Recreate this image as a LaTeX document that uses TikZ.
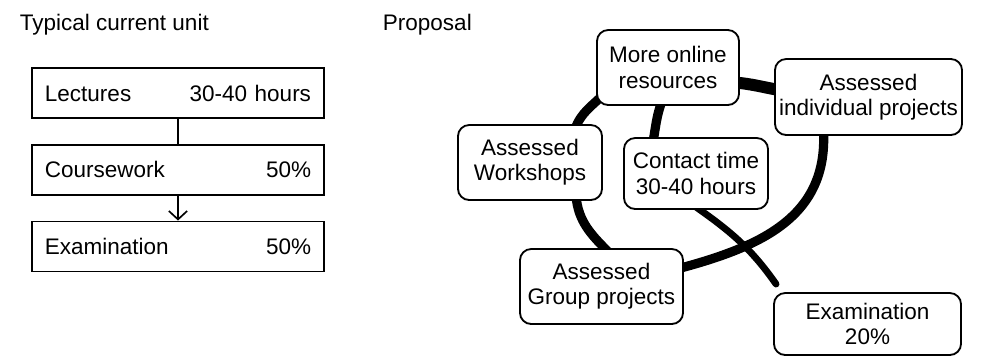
\documentclass[tikz,border=0pt]{standalone}
\usepackage{fontspec}
\setmainfont{Liberation Sans}
\usepackage{tikz}
\usetikzlibrary{arrows.meta, positioning, calc, backgrounds}
\tikzstyle{unit} = [rectangle, draw, line width=1.2pt, minimum width=7.3cm, minimum height=1.25cm, text width=6.65cm, inner sep=2pt, align=left]
\tikzstyle{rbox} = [rectangle, draw, line width=1.3pt, fill=white, rounded corners=0.28cm, inner sep=2pt, align=center]
\tikzstyle{loop} = [line width=0.23cm]
\tikzstyle{arrow} = [line width=1.2pt,-{Straight Barb[length=6pt,width=13pt,line width=1.2pt]}]

\begin{document}
\begin{tikzpicture}[x=0.025cm, y=0.025cm, font=\fontsize{16}{18}\selectfont, node distance=0.625cm]
\useasboundingbox (0,0) rectangle (988,-357);

\node (cur) [anchor=base west] at (15,-30) {Typical current unit};
\node (prop) [anchor=base west] at (378,-30) {Proposal};

% typical unit
\node (lec) [unit] at (178,-93) {Lectures\hfill 30-40 hours};
\node (cw) [unit, below=of lec] {Coursework\hfill 50\%};
\node (ex) [unit, below=of cw] {Examination\hfill 50\%};

\draw [line width=1.2pt] (lec) -- (cw);
\draw [arrow] (cw) -- (ex);

% proposal
\node (onl) [rbox, minimum width=3.55cm, minimum height=1.875cm] at (668,-67.5) {More online\\resources};
\node (ind) [rbox, minimum width=4.675cm, minimum height=1.9cm] at (868.5,-97) {Assessed\\individual projects};
\node (ws) [rbox, minimum width=3.6cm, minimum height=1.875cm] at (530,-162.5) {Assessed\\Workshops};
\node (ct) [rbox, minimum width=3.6cm, minimum height=1.775cm] at (696,-173.5) {Contact time\\30-40 hours};
\node (grp) [rbox, minimum width=4.075cm, minimum height=1.875cm] at (601.5,-286.5) {Assessed\\Group projects};
\node (exam) [rbox, minimum width=4.675cm, minimum height=1.55cm] at (867.5,-324) {Examination\\20\%};
\coordinate (examend) at ($(exam.north west)+(3,8)$);

\begin{scope}[on background layer]
\draw [loop] ($(ws.north)+(45,-5)$) to[out=70, in=225] ($(onl.south west)+(8,12)$);
\draw [loop, line width=0.3cm] ($(onl.east)+(-5,-15)$) to[out=-5, in=170] ($(ind.west)+(5,7)$);
\draw [loop] ($(ind.south)+(-45,5)$) to[out=-87, in=15, looseness=1.1] ($(grp.east)+(-5,18)$);
\draw [loop] ($(ws.south)+(46,5)$) to[out=-85, in=135] ($(grp.north)+(8,-5)$);
\draw [loop] ($(onl.south)+(-6,5)$) to[out=-110, in=80] ($(ct.north)+(-43,-5)$);
\draw [line width=0.17cm, line cap=round] ($(ct.south)+(-3,5)$) to[out=-35, in=125] (examend);
\end{scope}
\end{tikzpicture}
\end{document}
